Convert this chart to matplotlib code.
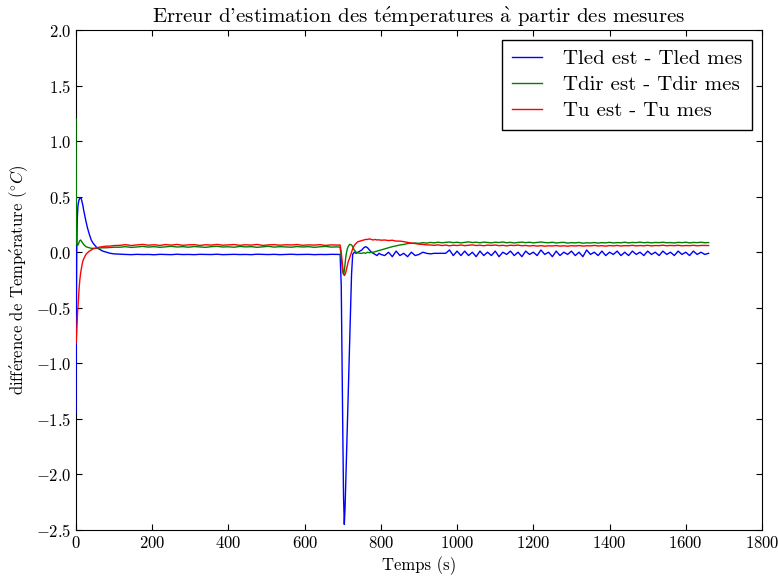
import numpy as np
import matplotlib
matplotlib.use('Agg')
import matplotlib.pyplot as plt

plt.rcParams['font.family'] = ['cmr10', 'DejaVu Serif']
plt.rcParams['mathtext.fontset'] = 'cm'
plt.rcParams['axes.formatter.use_mathtext'] = True
plt.rcParams['axes.unicode_minus'] = True
plt.rcParams['xtick.direction'] = 'in'
plt.rcParams['ytick.direction'] = 'in'
plt.rcParams['xtick.top'] = True
plt.rcParams['ytick.right'] = True
plt.rcParams['xtick.major.size'] = 4
plt.rcParams['ytick.major.size'] = 4

# temps (s)
temps = [0, 1, 2, 3, 4, 5, 6, 8, 10, 12, 14, 16, 18, 20, 23, 26, 30, 35, 40, 45, 50, 55, 60, 70, 80, 90, 100,
         115, 130, 145, 160, 175, 190, 205, 220, 235, 250, 265, 280, 295, 310, 325, 340, 355, 370, 385, 400,
         415, 430, 445, 460, 475, 490, 505, 520, 535, 550, 565, 580, 595, 610, 625, 640, 655, 670, 685,
         693, 696, 698, 700, 702, 704, 706, 708, 710, 712, 714, 716, 718, 720, 723, 726, 730, 735, 740, 745,
         750, 755, 760, 765, 770, 775, 780, 785, 790, 795, 800,
         810, 820, 830, 840, 850, 860, 870, 880, 890, 900, 910, 920, 930, 940, 950, 960, 970, 980, 990, 1000,
         1010, 1020, 1030, 1040, 1050, 1060, 1070, 1080, 1090, 1100, 1110, 1120, 1130, 1140, 1150, 1160, 1170,
         1180, 1190, 1200, 1210, 1220, 1230, 1240, 1250, 1260, 1270, 1280, 1290, 1300, 1310, 1320, 1330, 1340,
         1350, 1360, 1370, 1380, 1390, 1400, 1410, 1420, 1430, 1440, 1450, 1460, 1470, 1480, 1490, 1500, 1510,
         1520, 1530, 1540, 1550, 1560, 1570, 1580, 1590, 1600, 1610, 1620, 1630, 1640, 1650, 1660]

# Tled est - Tled mes
err_led = [-1.45, -0.5, 0.05, 0.25, 0.35, 0.41, 0.44, 0.47, 0.49, 0.49, 0.48, 0.45, 0.42, 0.38, 0.33, 0.28,
           0.22, 0.16, 0.11, 0.08, 0.06, 0.04, 0.03, 0.01, 0.0, -0.01, -0.015,
           -0.018, -0.02, -0.022, -0.019, -0.021, -0.02, -0.023, -0.019, -0.02, -0.022, -0.018, -0.021, -0.02,
           -0.022, -0.019, -0.02, -0.021, -0.018, -0.022, -0.02, -0.019, -0.021, -0.02, -0.022, -0.018, -0.02,
           -0.021, -0.019, -0.022, -0.02, -0.018, -0.021, -0.02, -0.019, -0.022, -0.02, -0.021, -0.019, -0.02,
           -0.02, -0.3, -1.0, -1.6, -2.2, -2.45, -2.3, -2.05, -1.8, -1.55, -1.3, -1.05, -0.8, -0.55, -0.2, -0.02,
           0.0, -0.01, 0.0, 0.01, 0.02, 0.04, 0.05, 0.04, 0.02, 0.0, -0.01, -0.02, -0.03, -0.01, -0.02,
           -0.03, 0.0, -0.04, 0.01, -0.03, -0.01, -0.04, 0.0, -0.03, -0.02, 0.0, -0.01, -0.015, -0.01, -0.01,
           -0.01, -0.01, 0.02, -0.03, 0.01, -0.03, 0.01, -0.03, 0.0, -0.04, 0.01, -0.03, 0.0, -0.03, 0.01,
           -0.04, 0.0, -0.02, 0.01, -0.03, 0.0, -0.04, 0.01, -0.02, 0.0, -0.03, 0.02, -0.02, 0.0, -0.04, 0.01,
           -0.03, 0.0, -0.02, 0.01, -0.03, 0.0, -0.04, 0.02, -0.02, 0.0, -0.03, 0.01, -0.03, 0.0, -0.02, 0.01,
           -0.03, 0.0, -0.03, 0.01, -0.02, 0.0, -0.03, 0.01, -0.02, 0.0, -0.03, 0.01, -0.02, 0.0, -0.03, 0.01,
           -0.02, 0.0, -0.03, 0.01, -0.02, 0.0, -0.02, -0.01]

# Tdir est - Tdir mes
err_dir = [1.2, 0.3, 0.08, 0.06, 0.06, 0.065, 0.07, 0.09, 0.105, 0.11, 0.1, 0.09, 0.08, 0.07, 0.06, 0.05,
           0.045, 0.04, 0.035, 0.035, 0.035, 0.035, 0.038, 0.04, 0.04, 0.042, 0.045,
           0.045, 0.05, 0.043, 0.048, 0.052, 0.046, 0.05, 0.044, 0.049, 0.053, 0.047, 0.05, 0.045, 0.051,
           0.048, 0.044, 0.05, 0.053, 0.047, 0.049, 0.045, 0.052, 0.048, 0.05, 0.044, 0.049, 0.053, 0.046,
           0.05, 0.048, 0.045, 0.051, 0.047, 0.05, 0.044, 0.049, 0.052, 0.046, 0.048,
           0.045, -0.05, -0.12, -0.18, -0.2, -0.17, -0.1, -0.04, 0.0, 0.03, 0.05, 0.06, 0.07, 0.07, 0.065,
           0.05, 0.02, 0.0, -0.005, -0.01, -0.01, -0.005, -0.01, 0.0, -0.005, 0.0, 0.0, 0.005, 0.01, 0.015,
           0.02,
           0.03, 0.04, 0.05, 0.058, 0.065, 0.07, 0.078, 0.08, 0.083, 0.08, 0.086, 0.082, 0.088, 0.084, 0.09,
           0.085, 0.088, 0.092, 0.086, 0.09, 0.084, 0.089, 0.093, 0.087, 0.09, 0.085, 0.091, 0.088, 0.084,
           0.09, 0.087, 0.092, 0.085, 0.089, 0.083, 0.088, 0.091, 0.086, 0.09, 0.084, 0.088, 0.092, 0.087,
           0.085, 0.09, 0.083, 0.087, 0.089, 0.082, 0.086, 0.084, 0.088, 0.081, 0.085, 0.083, 0.087, 0.082,
           0.086, 0.084, 0.089, 0.083, 0.087, 0.085, 0.09, 0.084, 0.088, 0.086, 0.091, 0.085, 0.089, 0.084,
           0.088, 0.086, 0.09, 0.085, 0.087, 0.083, 0.089, 0.086, 0.09, 0.084, 0.088, 0.086, 0.09, 0.085,
           0.087]

# Tu est - Tu mes
err_u = [-0.82, -0.78, -0.7, -0.62, -0.55, -0.5, -0.45, -0.33, -0.25, -0.19, -0.15, -0.11, -0.08, -0.06,
         -0.04, -0.02, -0.005, 0.01, 0.02, 0.03, 0.035, 0.04, 0.045, 0.05, 0.055, 0.055, 0.06,
         0.062, 0.068, 0.06, 0.066, 0.07, 0.063, 0.067, 0.061, 0.069, 0.064, 0.07, 0.062, 0.066, 0.068,
         0.061, 0.067, 0.064, 0.07, 0.063, 0.066, 0.069, 0.062, 0.067, 0.064, 0.07, 0.061, 0.066, 0.068,
         0.063, 0.067, 0.065, 0.069, 0.062, 0.066, 0.064, 0.068, 0.061, 0.066, 0.064,
         0.065, 0.0, -0.07, -0.14, -0.19, -0.21, -0.2, -0.18, -0.15, -0.12, -0.09, -0.07, -0.05, -0.03, 0.0,
         0.03, 0.06, 0.08, 0.095, 0.1, 0.105, 0.11, 0.115, 0.115, 0.12, 0.115, 0.11, 0.115, 0.11, 0.112,
         0.108,
         0.11, 0.105, 0.108, 0.1, 0.1, 0.095, 0.088, 0.082, 0.078, 0.072, 0.07, 0.066, 0.065, 0.062, 0.066,
         0.06, 0.064, 0.058, 0.063, 0.06, 0.065, 0.059, 0.062, 0.066, 0.06, 0.063, 0.058, 0.064, 0.061,
         0.065, 0.059, 0.062, 0.057, 0.063, 0.06, 0.064, 0.058, 0.061, 0.056, 0.06, 0.055, 0.059, 0.054,
         0.058, 0.056, 0.06, 0.055, 0.058, 0.054, 0.059, 0.056, 0.06, 0.055, 0.058, 0.057, 0.061, 0.056,
         0.059, 0.055, 0.06, 0.057, 0.061, 0.056, 0.059, 0.058, 0.062, 0.057, 0.06, 0.058, 0.062, 0.057,
         0.06, 0.059, 0.063, 0.058, 0.061, 0.059, 0.062, 0.058, 0.06, 0.059, 0.062, 0.058, 0.061, 0.06,
         0.06]

fig = plt.figure(figsize=(7.78, 5.77), dpi=100)
ax = fig.add_axes([0.0977, 0.0815, 0.8817, 0.8665])

# lignes au-dessus du cadre (comme l'original)
ax.plot(temps, err_led, color='b', lw=1.0, label='Tled est - Tled mes', zorder=3)
ax.plot(temps, err_dir, color='g', lw=1.0, label='Tdir est - Tdir mes', zorder=3)
ax.plot(temps, err_u, color='r', lw=1.0, label='Tu est - Tu mes', zorder=3)

ax.set_xlim(0, 1800)
ax.set_ylim(-2.5, 2.0)
ax.set_xticks([0, 200, 400, 600, 800, 1000, 1200, 1400, 1600, 1800])
ax.set_yticks([-2.5, -2.0, -1.5, -1.0, -0.5, 0.0, 0.5, 1.0, 1.5, 2.0])
ax.tick_params(labelsize=12)

# accents via mathtext (cmr10 has no é / à)
ax.set_title(r"Erreur d'estimation des t$\mathrm{\acute{e}}$mperatures $\mathrm{\grave{a}}$ partir des mesures",
             fontsize=15, pad=5)
ax.set_xlabel('Temps (s)', fontsize=12)
ax.set_ylabel(r'diff$\mathrm{\acute{e}}$rence de Temp$\mathrm{\acute{e}}$rature $(^{\circ}C)$', fontsize=12)

leg = ax.legend(loc='upper right', fontsize=15, fancybox=False, framealpha=1.0,
                handlelength=1.45, handletextpad=1.0, borderpad=0.45, labelspacing=0.35,
                borderaxespad=0.5)
leg.get_frame().set_edgecolor('black')
leg.set_zorder(5)

fig.savefig('out.png', dpi=100)
